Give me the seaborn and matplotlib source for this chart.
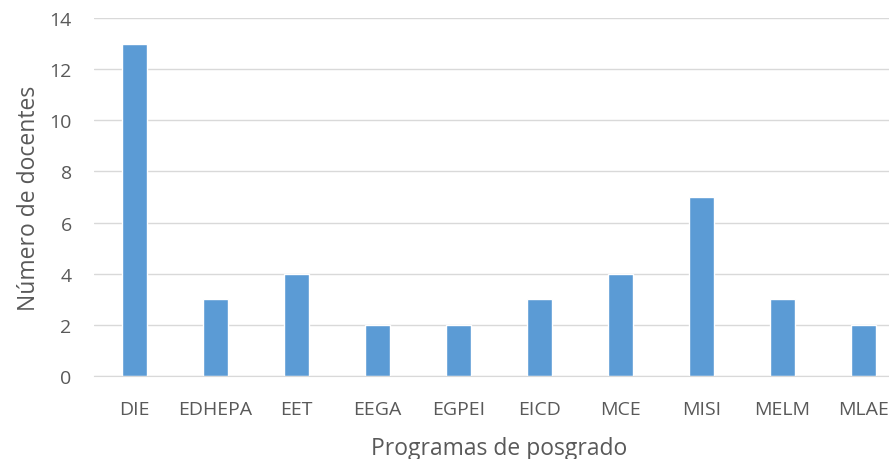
import pandas as pd
import seaborn as sns
import matplotlib.pyplot as plt

programas = ['DIE', 'EDHEPA', 'EET', 'EEGA', 'EGPEI', 'EICD', 'MCE', 'MISI', 'MELM', 'MLAE']
docentes = [13, 3, 4, 2, 2, 3, 4, 7, 3, 2]

df = pd.DataFrame({'programa': programas, 'docentes': docentes})

sns.set_style('white')
plt.rcParams['font.family'] = ['Open Sans', 'DejaVu Sans']

fig = plt.figure(figsize=(8.89, 4.60), dpi=100)
# the chart is cropped on the right, so the axes run past the figure edge
ax = fig.add_axes([0.1057, 0.1804, 0.911, 0.7783])

sns.barplot(data=df, x='programa', y='docentes', color='#5B9BD5',
            saturation=1, width=0.31, ax=ax)

ax.set_ylim(0, 14)
ax.set_yticks(range(0, 15, 2))
ax.set_xlim(-0.5, 9.5)
ax.yaxis.grid(True, color='#D9D9D9', linewidth=1)
ax.set_axisbelow(True)
for s in ['top', 'right', 'left']:
    ax.spines[s].set_visible(False)
ax.spines['bottom'].set_color('#D9D9D9')
ax.tick_params(axis='both', length=0, labelsize=14, labelcolor='#595959')
ax.tick_params(axis='x', pad=17)
ax.tick_params(axis='y', pad=16)
ax.set_xlabel('Programas de posgrado', fontsize=16.5, color='#595959', labelpad=13)
ax.set_ylabel('Número de docentes', fontsize=16.5, color='#595959', labelpad=6)

fig.savefig('out.png', dpi=100)
